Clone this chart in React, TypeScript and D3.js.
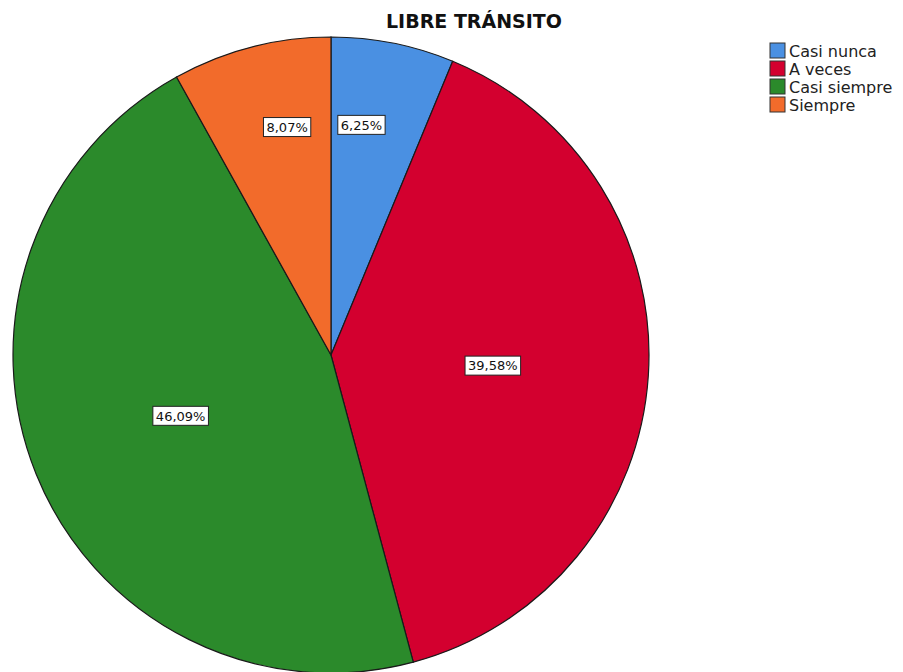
import React, { useRef, useEffect } from 'react';
import * as d3 from 'd3';

const categories = ['Casi nunca', 'A veces', 'Casi siempre', 'Siempre'];
const percents = [6.25, 39.58, 46.09, 8.07];
const colors = ['#4a90e2', '#d3002f', '#2b8a2b', '#f26b2b'];
const title = 'LIBRE TRÁNSITO';

const App = () => {
  const svgRef = useRef<SVGSVGElement>(null);

  useEffect(() => {
    const width = 903;
    const height = 672;
    const cx = 331;
    const cy = 355;
    const radius = 318;
    const font = '"DejaVu Sans", sans-serif';

    const svg = d3.select(svgRef.current);
    svg.selectAll('*').remove();
    svg.attr('width', width).attr('height', height);

    const data = categories.map((c, i) => ({ name: c, value: percents[i], color: colors[i] }));

    const pie = d3.pie<any>().value(d => d.value).sort(null);
    const arcs = pie(data);
    const arc = d3.arc<any>().innerRadius(0).outerRadius(radius);

    const g = svg.append('g').attr('transform', `translate(${cx},${cy})`);

    g.selectAll('path.slice')
      .data(arcs)
      .enter()
      .append('path')
      .attr('class', 'slice')
      .attr('d', arc)
      .attr('fill', d => d.data.color)
      .attr('stroke', '#1a1a1a')
      .attr('stroke-width', 1.2);

    // labels: small slices further out (nudged toward 12 o'clock), large ones at half radius
    const labels = g.selectAll('g.lbl')
      .data(arcs)
      .enter()
      .append('g')
      .attr('class', 'lbl')
      .attr('transform', d => {
        const frac = d.data.value / 100;
        const small = frac < 0.1;
        const r = small ? radius * 0.73 : radius * 0.51;
        let a = (d.startAngle + d.endAngle) / 2;
        if (small) {
          const half = (d.endAngle - d.startAngle) / 2;
          a = a < Math.PI ? a - half * 0.33 : a + half * 0.25;
        }
        return `translate(${Math.sin(a) * r},${-Math.cos(a) * r})`;
      });

    labels.each(function (d) {
      const sel = d3.select(this);
      const txt = sel.append('text')
        .attr('text-anchor', 'middle')
        .attr('dy', '0.36em')
        .style('font-family', font)
        .style('font-size', '13px')
        .attr('fill', '#111')
        .text(d3.format('.2f')(d.data.value).replace('.', ',') + '%');
      const bb = (txt.node() as SVGTextElement).getBBox();
      sel.insert('rect', 'text')
        .attr('x', bb.x - 3)
        .attr('y', -9.5)
        .attr('width', bb.width + 6)
        .attr('height', 19)
        .attr('fill', '#fff')
        .attr('stroke', '#222')
        .attr('stroke-width', 1);
    });

    // title
    svg.append('text')
      .attr('x', 474)
      .attr('y', 28)
      .attr('text-anchor', 'middle')
      .style('font-family', font)
      .style('font-size', '19px')
      .style('font-weight', 'bold')
      .attr('fill', '#111')
      .text(title);

    // legend
    const legend = svg.append('g').attr('transform', 'translate(770,43)');
    const rows = legend.selectAll('g.row')
      .data(data)
      .enter()
      .append('g')
      .attr('class', 'row')
      .attr('transform', (d, i) => `translate(0,${i * 18})`);

    rows.append('rect')
      .attr('width', 15)
      .attr('height', 15)
      .attr('fill', d => d.color)
      .attr('stroke', '#333')
      .attr('stroke-width', 1);

    rows.append('text')
      .attr('x', 19)
      .attr('y', 13.5)
      .style('font-family', font)
      .style('font-size', '16px')
      .attr('fill', '#222')
      .text(d => d.name);
  }, []);

  return (
    <div style={{ position: 'absolute', left: 0, top: 0 }}>
      <svg ref={svgRef} style={{ display: 'block', background: '#fff' }} />
    </div>
  );
};

export default App;
